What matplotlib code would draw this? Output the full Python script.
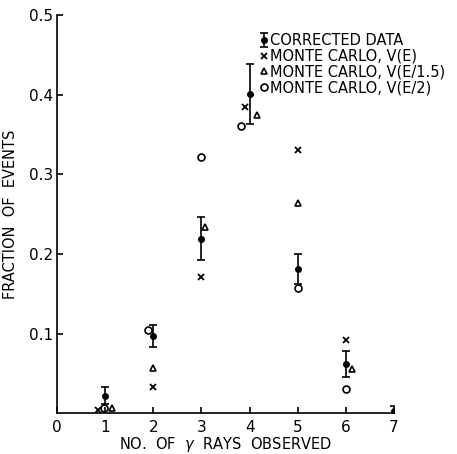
import matplotlib.pyplot as plt
import numpy as np

# corrected data
n_data = [1, 2, 3, 4, 5, 6, 7]
frac_data = [0.022, 0.097, 0.219, 0.401, 0.181, 0.062, 0.003]
err_data = [0.011, 0.014, 0.027, 0.038, 0.019, 0.016, 0.006]

# monte carlo V(E)
n_ve = [0.84, 2.0, 3.0, 3.9, 5.0, 6.0]
frac_ve = [0.004, 0.033, 0.171, 0.384, 0.331, 0.092]

# monte carlo V(E/1.5)
n_ve15 = [1.14, 2.0, 3.08, 4.16, 5.0, 6.12]
frac_ve15 = [0.006, 0.057, 0.234, 0.375, 0.264, 0.055]

# monte carlo V(E/2)
n_ve2 = [0.98, 1.89, 3.0, 3.83, 5.0, 6.0]
frac_ve2 = [0.006, 0.104, 0.322, 0.361, 0.157, 0.030]

fig = plt.figure(figsize=(4.57, 4.54), dpi=100)
ax = fig.add_axes([0.125, 0.090, 0.737, 0.877])

h1 = ax.errorbar(n_data, frac_data, yerr=err_data, fmt='o', color='black',
                 ms=4, capsize=3, elinewidth=1.2, capthick=1.2)
h2, = ax.plot(n_ve, frac_ve, 'x', color='black', ms=4, mew=1.3, ls='none')
h3, = ax.plot(n_ve15, frac_ve15, '^', color='black', mfc='none', ms=5,
              mew=1.2, ls='none')
h4, = ax.plot(n_ve2, frac_ve2, 'o', color='black', mfc='none', ms=5,
              mew=1.2, ls='none')

ax.set_xlim(0, 7)
ax.set_ylim(0, 0.5)
ax.spines['top'].set_visible(False)
ax.spines['right'].set_visible(False)
ax.spines['left'].set_linewidth(1.2)
ax.spines['bottom'].set_linewidth(1.2)

ax.set_xticks(range(0, 8))
ax.set_xticklabels([str(i) for i in range(0, 8)])
ax.set_yticks([0.1, 0.2, 0.3, 0.4, 0.5])
ax.set_yticklabels(['0.1', '0.2', '0.3', '0.4', '0.5'])
ax.tick_params(direction='in', length=4, width=1.2, labelsize=11)
ax.tick_params(axis='x', pad=5)
ax.tick_params(axis='y', pad=3)

ax.set_xlabel(r'NO.  OF  $\gamma$  RAYS  OBSERVED', fontsize=10.5, labelpad=0)
ax.set_ylabel('FRACTION  OF  EVENTS', fontsize=10.5, labelpad=8)

ax.legend([h1, h2, h3, h4],
          ['CORRECTED DATA', 'MONTE CARLO, V(E)',
           'MONTE CARLO, V(E/1.5)', 'MONTE CARLO, V(E/2)'],
          loc='upper left', bbox_to_anchor=(0.6, 0.955), frameon=False,
          handlelength=0.6, handletextpad=0.15, labelspacing=0.05,
          fontsize=10.5, borderaxespad=0, borderpad=0)

fig.savefig('out.png', dpi=100)
